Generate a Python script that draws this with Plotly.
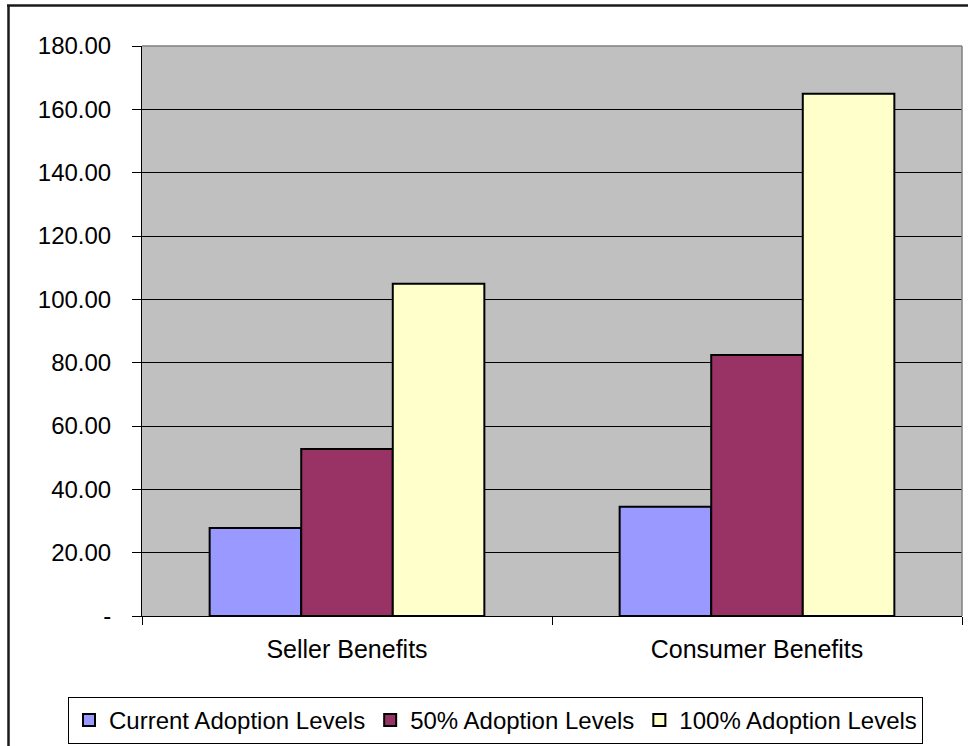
import plotly.graph_objects as go

categories = ["Seller Benefits", "Consumer Benefits"]
series_names = ["Current Adoption Levels", "50% Adoption Levels", "100% Adoption Levels"]
current_adoption = [27.8, 34.5]
half_adoption = [52.7, 82.4]
full_adoption = [104.9, 164.9]
tick_values = [0, 20, 40, 60, 80, 100, 120, 140, 160, 180]
tick_labels = ["-", "20.00", "40.00", "60.00", "80.00", "100.00", "120.00", "140.00", "160.00", "180.00"]

colors = ["#9999FF", "#993366", "#FFFFCC"]
series_values = [current_adoption, half_adoption, full_adoption]

W, H = 968, 746
L, R, T, B = 142, 6, 46, 130
pw, ph = W - L - R, H - T - B

def px_x(p):
    return (p - L) / pw

def px_y(p):
    return (H - B - p) / ph

fig = go.Figure()
for name, vals, col in zip(series_names, series_values, colors):
    fig.add_trace(go.Bar(
        x=categories, y=vals, name=name,
        marker=dict(color=col, line=dict(color="black", width=2)),
    ))

font_family = "Liberation Sans, Arial, sans-serif"

fig.update_layout(
    width=W, height=H,
    margin=dict(l=L, r=R, t=T, b=B, autoexpand=False),
    paper_bgcolor="white",
    plot_bgcolor="#C0C0C0",
    barmode="group",
    bargap=0.33,
    bargroupgap=0,
    font=dict(family=font_family, size=24, color="black"),
    showlegend=True,
    legend=dict(
        orientation="h",
        x=px_x(68), xanchor="left",
        y=px_y(697), yanchor="top",
        bgcolor="white",
        bordercolor="black", borderwidth=1,
        font=dict(family=font_family, size=24, color="black"),
        itemclick=False,
        traceorder="normal",
    ),
    xaxis=dict(
        type="category",
        showline=True, linecolor="black", linewidth=1,
        ticks="outside", tickson="boundaries", ticklen=8, tickcolor="black",
        tickfont=dict(size=25),
        ticklabelstandoff=11,
        showgrid=False,
    ),
    yaxis=dict(
        range=[0, 180],
        tickvals=tick_values, ticktext=tick_labels,
        showline=True, linecolor="black", linewidth=1,
        ticks="outside", ticklen=9, tickcolor="black",
        ticklabelstandoff=16,
        showgrid=True, gridcolor="black", gridwidth=1,
        zeroline=False,
        tickfont=dict(size=24),
    ),
    shapes=[
        dict(type="line", xref="paper", yref="paper", x0=0, x1=1, y0=1, y1=1,
             line=dict(color="#808080", width=1.5)),
        dict(type="line", xref="paper", yref="paper", x0=1, x1=1, y0=0, y1=1,
             line=dict(color="#808080", width=1.5)),
        dict(type="line", xref="paper", yref="paper", x0=px_x(8.5), x1=px_x(8.5),
             y0=px_y(5), y1=px_y(760), line=dict(color="#1a1a1a", width=2.5)),
        dict(type="line", xref="paper", yref="paper", x0=px_x(7), x1=px_x(980),
             y0=px_y(5.5), y1=px_y(5.5), line=dict(color="#1a1a1a", width=2.5)),
    ],
)

fig.write_html(
    "out.html",
    config={"displayModeBar": False},
    post_script="document.body.style.margin='0';document.body.style.overflow='hidden';",
)
